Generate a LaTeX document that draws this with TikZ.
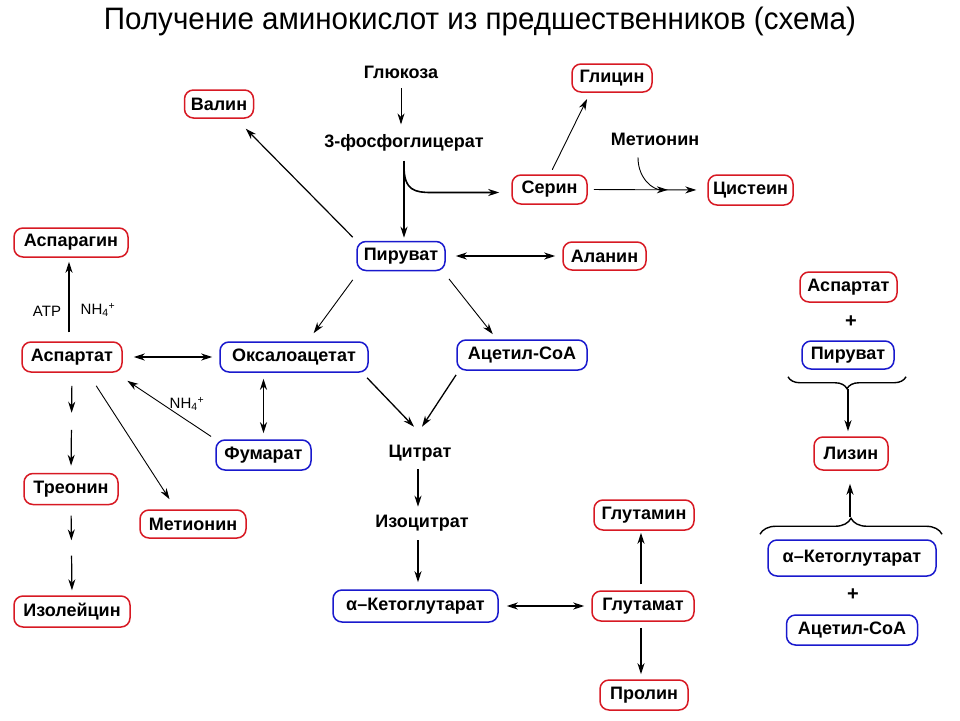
\documentclass[tikz,border=0pt]{standalone}
\usepackage{fontspec}
\usepackage{graphicx}
\setmainfont{Liberation Sans}
\usetikzlibrary{arrows.meta,calc,decorations.pathreplacing}
\definecolor{rd}{RGB}{215,25,35}
\definecolor{bl}{RGB}{25,25,205}
\tikzset{
  box/.style={draw, rounded corners=9pt, line width=1.5pt, minimum height=29pt, inner sep=0pt,
    font=\bfseries\fontsize{18}{18}\selectfont},
  rbox/.style={box, draw=rd},
  bbox/.style={box, draw=bl},
  lbl/.style={inner sep=0pt, font=\bfseries\fontsize{18}{18}\selectfont},
  sm/.style={inner sep=0pt, font=\fontsize{15}{15}\selectfont},
  tip/.tip={Stealth[length=11pt,width=7pt,inset=3.5pt]},
  arr/.style={-tip, line width=0.9pt},
  arrk/.style={-tip, line width=1.6pt},
  darr/.style={tip-tip, line width=1.6pt},
  darrt/.style={tip-tip, line width=0.9pt},
  brc/.style={decorate, line width=1.4pt}
}
\begin{document}
\begin{tikzpicture}[x=1pt,y=-1pt]
\useasboundingbox (0,0) rectangle (960,720);
\node[anchor=base, inner sep=0pt] (title) at (480,29)
  {\resizebox{752pt}{\height}{\fontsize{31}{31}\selectfont Получение аминокислот из предшественников (схема)}};

% central column
\node[lbl] (glc) at (401,72) {Глюкоза};
\node[lbl] (pg3) at (404,143) {3-фосфоглицерат};
\node[rbox, minimum width=69pt, minimum height=28pt] (val) at (219,104) {Валин};
\node[rbox, minimum width=80pt, minimum height=28pt] (gly) at (612,78) {Глицин};
\node[lbl] (mettxt) at (655,139) {Метионин};
\node[rbox, minimum width=75pt] (ser) at (549.5,189.5) {Серин};
\node[rbox, minimum width=85pt, minimum height=30pt] (cys) at (750.5,190) {Цистеин};
\node[bbox, minimum width=88pt] (pyr) at (401,256) {Пируват};
\node[rbox, minimum width=83pt, minimum height=28pt] (ala) at (604.5,256) {Аланин};
\node[bbox, minimum width=148pt, minimum height=30pt] (oxa) at (294,357) {Оксалоацетат};
\node[bbox, minimum width=130pt, minimum height=30pt] (acc) at (522,355) {Ацетил-CoA};
\node[bbox, minimum width=95pt, minimum height=30pt] (fum) at (263.5,455) {Фумарат};
\node[lbl] (cit) at (420,453) {Цитрат};
\node[lbl] (iso) at (422,523) {Изоцитрат};
\node[bbox, minimum width=165pt, minimum height=32pt] (akg) at (415.5,606) {α–Кетоглутарат};
\node[rbox, minimum width=100pt, minimum height=30pt] (gln) at (644,515) {Глутамин};
\node[rbox, minimum width=102pt, minimum height=30pt] (glu) at (643,606) {Глутамат};
\node[rbox, minimum width=88pt, minimum height=30pt] (pro) at (644,695) {Пролин};

% left column
\node[rbox, minimum width=114pt] (asn) at (71,242.5) {Аспарагин};
\node[rbox, minimum width=100pt, minimum height=30pt] (asp) at (72,357) {Аспартат};
\node[rbox, minimum width=94pt, minimum height=31pt] (thr) at (71,489) {Треонин};
\node[rbox, minimum width=106pt, minimum height=28pt] (met) at (193,524) {Метионин};
\node[rbox, minimum width=116pt, minimum height=31pt] (ile) at (72,611.5) {Изолейцин};
\node[sm] (atp) at (47,311) {ATP};
\node[sm] (nh1) at (98,310) {NH\textsubscript{4}\textsuperscript{+}};
\node[sm] (nh2) at (187,404) {NH\textsubscript{4}\textsuperscript{+}};

% right column
\node[rbox, minimum width=97pt, minimum height=30pt] (asp2) at (848.5,287) {Аспартат};
\node[lbl, font=\bfseries\fontsize{20}{20}\selectfont] (pl1) at (851,322) {+};
\node[bbox, minimum width=92pt, minimum height=28pt] (pyr2) at (848,355) {Пируват};
\node[rbox, minimum width=74pt, minimum height=33pt] (lys) at (851,453.5) {Лизин};
\node[bbox, minimum width=168pt, minimum height=36pt] (akg2) at (852,558) {α–Кетоглутарат};
\node[lbl, font=\bfseries\fontsize{20}{20}\selectfont] (pl2) at (853,595) {+};
\node[bbox, minimum width=131pt, minimum height=30pt] (acc2) at (852,630) {Ацетил-CoA};

% connectors: central
\draw[arr, shorten <=10pt, shorten >=10pt] (glc) -- (glc |- pg3.north);
\draw[arrk, shorten <=9pt, shorten >=3pt] (pg3.south) -- (pg3.south |- pyr.north);
\coordinate (c1) at ($(pg3.south)+(0,15)$);
\draw[arrk, shorten >=12pt] (c1) .. controls +(0,24) and +(-16,0) .. ($(ser.west)+(-80,3)$) -- ($(ser.west)+(0,3)$);
\draw[arr, shorten <=5pt, shorten >=7pt] (ser.88) -- (gly.214);
\draw[arr, shorten <=6pt, shorten >=11pt] (ser.east) -- (cys.west);
\coordinate (m1) at ($(ser.east)!0.67!(cys.west)$);
\draw[arr] ($(mettxt.south)+(-17,12)$) .. controls +(0,22) and +(-14,0) .. (m1);
\draw[arrk, line width=1.2pt, shorten <=5pt, shorten >=14pt] (pyr.north west) -- (val.-41);
\draw[darr, shorten <=10pt, shorten >=7pt] (pyr.east) -- (ala.west);
\draw[arr, shorten <=10.7pt, shorten >=10pt] (pyr.200) -- (oxa.49);
\draw[arr, shorten <=9.8pt, shorten >=6.5pt] (pyr.-20) -- (acc.148);
\draw[arrk, line width=1.3pt, shorten <=7pt] (oxa.-13) -- ($(cit.north)+(-6,-18)$);
\draw[arrk, line width=1.3pt, shorten <=5pt] (acc.194) -- ($(cit.north)+(2,-18)$);
\draw[arrk, shorten <=8pt, shorten >=8pt] ($(cit.south)+(-2,0)$) -- ($(cit.south |- iso.north)+(-2,0)$);
\draw[arrk, shorten <=9pt, shorten >=7pt] ($(iso.south)+(-4,0)$) -- ($(iso.south |- akg.north)+(-4,0)$);
\draw[darr, shorten <=8pt, shorten >=7pt] (akg.east) -- (glu.west);
\draw[arrk, shorten <=6pt, shorten >=2pt] ($(glu.north)+(-2,0)$) -- ($(glu.north |- gln.south)+(-2,0)$);
\draw[arrk, shorten <=6pt, shorten >=5pt] ($(glu.south)+(-2,0)$) -- ($(glu.south |- pro.north)+(-2,0)$);

% connectors: left
\draw[arrk, shorten <=9pt, shorten >=4pt] ($(asp.north)+(-3,0)$) -- ($(asp.north |- asn.south)+(-3,0)$);
\draw[darrt, line width=1.1pt, shorten <=11pt, shorten >=7pt] (asp.east) -- (oxa.west);
\draw[darr, shorten <=6pt, shorten >=6pt] (fum.north |- oxa.south) -- (fum.north);
\draw[arr, shorten <=5pt, shorten >=14.5pt] (fum.north west) -- (asp.-20);
\draw[arr, shorten <=15.5pt, shorten >=12pt] (asp.-45) -- (met.139);
\draw[arrk, line width=1.2pt] ($(asp.south)!0.13!(thr.north)$) -- ($(asp.south)!0.40!(thr.north)$);
\draw[arrk, line width=1.2pt] ($(asp.south)!0.57!(thr.north)$) -- ($(asp.south)!0.93!(thr.north)$);
\draw[arrk, line width=1.2pt] ($(thr.south)!0.115!(ile.north)$) -- ($(thr.south)!0.39!(ile.north)$);
\draw[arrk, line width=1.2pt] ($(thr.south)!0.56!(ile.north)$) -- ($(thr.south)!0.945!(ile.north)$);

% connectors: right
\draw[brc, decoration={brace, amplitude=12pt}] ($(pyr2.south)+(58,7)$) -- ($(pyr2.south)+(-60,7)$);
\coordinate (b1) at ($(pyr2.south)+(0,19)$);
\draw[arrk, shorten >=5pt] (b1) -- (b1 |- lys.north);
\draw[brc, decoration={brace, amplitude=16pt}] ($(akg2.north)+(-92,-5)$) -- ($(akg2.north)+(90,-5)$);
\coordinate (b2) at ($(akg2.north)+(-2,-22)$);
\draw[arrk, shorten >=13pt] (b2) -- (b2 |- lys.south);
\end{tikzpicture}
\end{document}
